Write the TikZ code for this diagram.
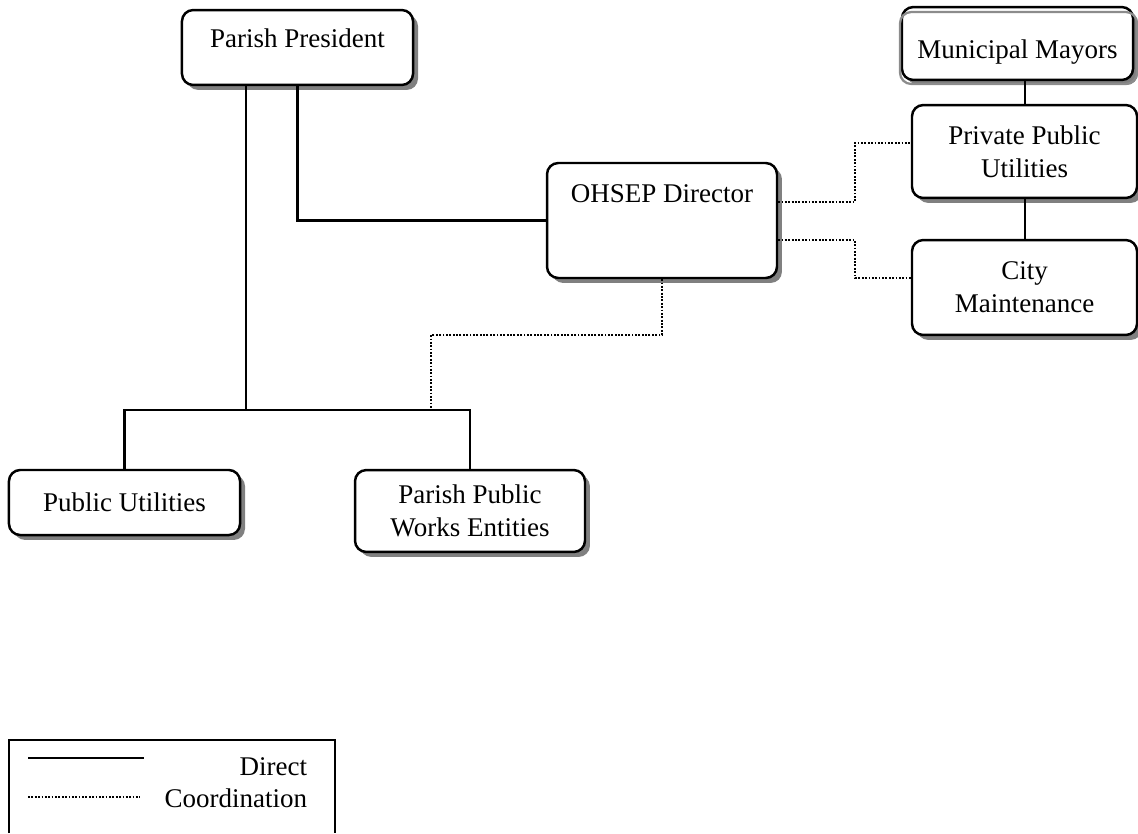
\documentclass[tikz,border=0pt]{standalone}
\usepackage{fontspec}
\setmainfont{Liberation Serif}
\usetikzlibrary{shadows}

\begin{document}
\begin{tikzpicture}[x=0.4444pt,y=-0.4444pt,
	box/.style={draw,line width=1.1pt,rounded corners=5pt,fill=white,align=center,inner sep=0pt,
		font=\fontsize{12}{14.7}\selectfont,
		drop shadow={shadow xshift=2.2pt,shadow yshift=-2.2pt,fill=black!50,opacity=1}},
	directline/.style={line width=0.9pt},
	coordline/.style={line width=0.8pt,dash pattern=on 0.8pt off 0.7pt}]
	\useasboundingbox (0,0) rectangle (1138,833);

	\newcommand\drawBox[7][]{\node[box,minimum width=#4,minimum height=#5,#1] at (#2,#3) (#7) {#6};}

	\drawBox[text height=8pt,text depth=8pt]{297.5}{47.5}{102.7pt}{33.3pt}{Parish President}{pres}
	\drawBox[text height=8pt,text depth=23.6pt]{662}{220.5}{102.2pt}{51.1pt}{OHSEP Director}{ohsep}
	\drawBox[text height=16pt,text depth=2.5pt,drop shadow={opacity=0}]{1017.5}{43.5}{102.7pt}{32.4pt}{Municipal Mayors}{mayors}
	\drawBox{1024.5}{151.5}{100pt}{41.3pt}{Private Public\\Utilities}{private}
	\drawBox{1024.5}{287.5}{100pt}{42.2pt}{City\\Maintenance}{city}
	\drawBox{124.5}{502.5}{102.7pt}{28.9pt}{Public Utilities}{utilities}
	\drawBox{470}{511}{102.2pt}{36.4pt}{Parish Public\\Works Entities}{works}

	\draw[black!45,line width=1pt,rounded corners=5pt] (900,12) rectangle (1137,84);

	\coordinate (split) at (246,410);
	\coordinate (bendUp) at (855,143);
	\coordinate (bendDown) at (855,278);
	\coordinate (bendLeft) at (431,335);

	\draw[directline] (pres.south -| split) -- (split);
	\draw[directline] (utilities.north) |- (split) -| (works.north);
	\draw[directline] (pres.south) |- (ohsep.west);
	\draw[directline] (private.north) -- (private.north |- mayors.south);
	\draw[directline] (private.south) -- (city.north);

	\draw[coordline] (ohsep.east |- 0,202) -| (bendUp) -- (private.west |- bendUp);
	\draw[coordline] (ohsep.east |- 0,240) -| (bendDown) -- (city.west |- bendDown);
	\draw[coordline] (ohsep.south) |- (bendLeft) -- (bendLeft |- split);

	\draw[line width=0.9pt] (9,833) -- (9,740) -- (335,740) -- (335,833);
	\draw[directline] (28,758) -- (144,758);
	\draw[coordline] (28,797) -- (140,797);
	\node[anchor=base east,font=\fontsize{12}{14.7}\selectfont] (keyDirect) at (315,775) {Direct};
	\node[anchor=base east,font=\fontsize{12}{14.7}\selectfont] (keyCoord) at (315,807) {Coordination};
\end{tikzpicture}
\end{document}
